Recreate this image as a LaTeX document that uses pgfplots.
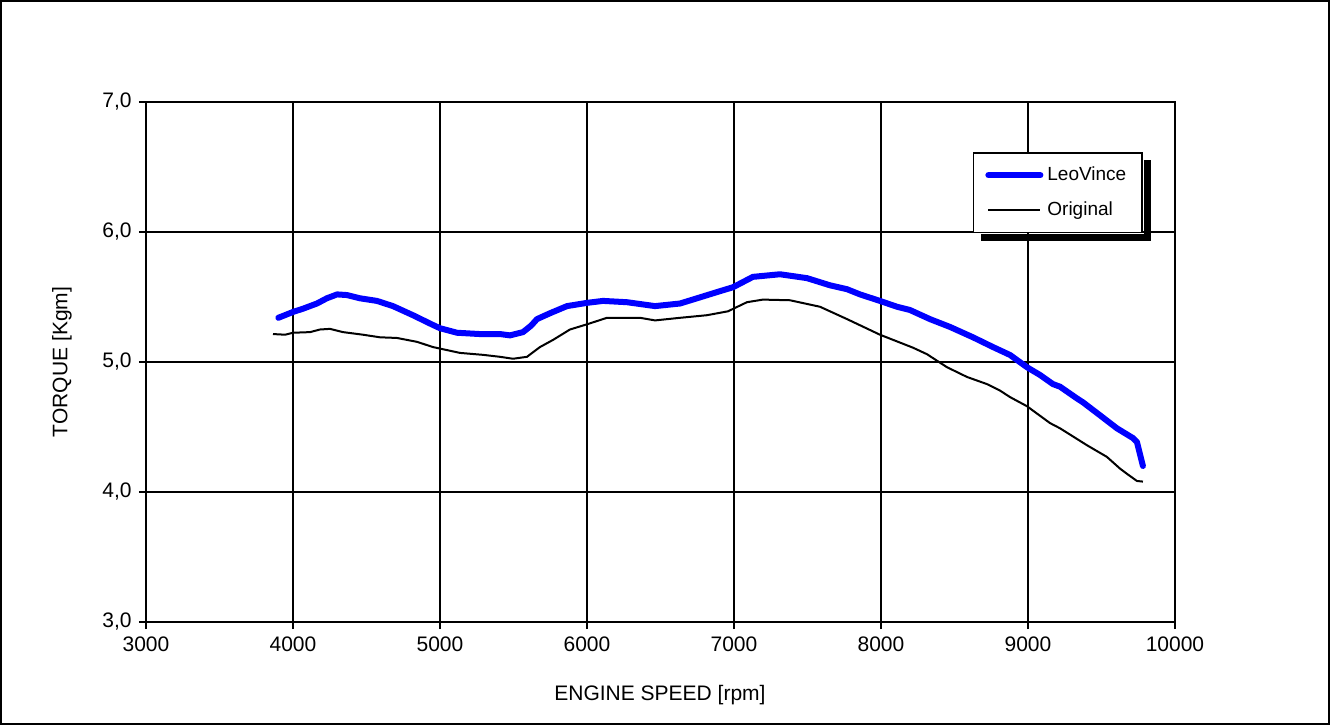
\documentclass[border=0pt]{standalone}
\usepackage{pgfplots}
\pgfplotsset{compat=1.18}
\usepackage{fontspec}
\setmainfont{Liberation Sans}
\begin{document}
\fontsize{10.5}{12}\selectfont
\begin{tikzpicture}
\useasboundingbox (0,0) rectangle (665pt,362.5pt);
\draw[line width=1pt] (0.5pt,0.5pt) rectangle (664.5pt,362pt);
\begin{axis}[
  at={(73pt,51.5pt)}, anchor=south west,
  scale only axis, width=514.5pt, height=260pt,
  xmin=3000, xmax=10000, ymin=3, ymax=7,
  xtick={3000,4000,...,10000}, ytick={3,4,5,6,7},
  scaled ticks=false,
  grid=major, grid style={black, line width=1pt},
  axis line style={black, line width=1.2pt},
  tick style={black, line width=1pt},
  tick align=outside, major tick length=3.5pt,
  xtick pos=bottom, ytick pos=left,
  /pgf/number format/assume math mode=true,
  x tick label style={/pgf/number format/.cd, fixed, precision=0, 1000 sep={}},
  y tick label style={/pgf/number format/.cd, fixed, fixed zerofill, precision=1, use comma},
  xlabel={ENGINE SPEED [rpm]}, ylabel={TORQUE [Kgm]},
  xlabel style={at={(axis description cs:0.4995,-0.1404)}, anchor=center},
  ylabel style={at={(axis description cs:-0.0816,0.5)}, anchor=center},
  legend style={name=leg, at={(rel axis cs:0.969,0.904)}, anchor=north east,
    draw=black, line width=0.8pt, fill=white,
    font=\fontsize{9.5}{11}\selectfont, row sep=5pt, inner xsep=6pt, inner ysep=5pt,
    cells={anchor=west}},
  legend image code/.code={\draw[#1] (0pt,0pt) -- (26pt,0pt);},
]
\addplot[blue, line width=3pt, line join=round, line cap=round] coordinates {
(3900,5.34) (4000,5.385) (4068,5.41) (4163,5.45) (4230,5.49) (4300,5.52) (4367,5.515) (4456,5.49)
(4571,5.47) (4680,5.43) (4816,5.36) (4952,5.285) (5000,5.26) (5116,5.225) (5272,5.215)
(5408,5.215) (5476,5.205) (5565,5.23) (5620,5.28) (5660,5.33) (5748,5.375) (5864,5.43) (6000,5.455)
(6109,5.47) (6272,5.46) (6463,5.43) (6633,5.45) (6748,5.49) (6905,5.545) (6993,5.575)
(7129,5.655) (7313,5.675) (7497,5.645) (7653,5.59) (7769,5.56) (7857,5.52) (7993,5.47)
(8109,5.425) (8197,5.40) (8333,5.33) (8469,5.27) (8626,5.19) (8762,5.115) (8878,5.054)
(8993,4.96) (9082,4.90) (9170,4.83) (9218,4.81) (9333,4.72) (9374,4.69) (9490,4.59)
(9605,4.49) (9714,4.415) (9741,4.385) (9782,4.20)
};
\addlegendentry{LeoVince}
\addplot[black, line width=1pt, line join=round] coordinates {
(3864,5.215) (3946,5.21) (4000,5.225) (4116,5.23) (4184,5.25) (4252,5.255) (4340,5.23)
(4476,5.21) (4592,5.19) (4707,5.185) (4844,5.155) (4952,5.115) (5136,5.07) (5293,5.055)
(5408,5.04) (5497,5.025) (5592,5.04) (5680,5.115) (5769,5.17) (5884,5.25) (6000,5.29)
(6136,5.34) (6361,5.34) (6463,5.32) (6633,5.34) (6816,5.36) (6959,5.39) (7088,5.46)
(7197,5.48) (7381,5.475) (7585,5.425) (7769,5.33) (7993,5.21) (8218,5.11) (8313,5.06)
(8449,4.96) (8585,4.885) (8721,4.83) (8810,4.78) (8878,4.73) (8993,4.66) (9150,4.53)
(9218,4.49) (9401,4.36) (9537,4.27) (9626,4.18) (9673,4.14) (9741,4.085) (9782,4.08)
};
\addlegendentry{Original}
\end{axis}
\fill[black] ([xshift=0.4pt,yshift=-4pt]leg.north east) rectangle ([xshift=4pt,yshift=-4pt]leg.south east);
\fill[black] ([xshift=4pt,yshift=-0.4pt]leg.south west) rectangle ([xshift=4pt,yshift=-4pt]leg.south east);
\end{tikzpicture}
\end{document}
